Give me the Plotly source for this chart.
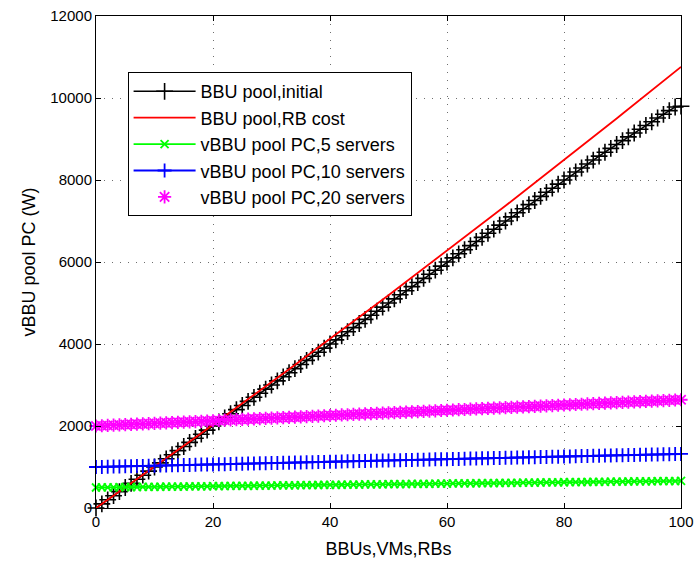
import plotly.graph_objects as go

# ---------------- data ----------------
n_units = list(range(0, 101))  # BBUs, VMs, RBs

bbu_initial = [
    0, 100, 200, 300, 400, 500, 600, 700, 800, 900,
    1000, 1100, 1200, 1300, 1400, 1500, 1600, 1700, 1800, 1900,
    2000, 2100, 2200, 2300, 2400, 2500, 2600, 2700, 2800, 2900,
    3000, 3100, 3200, 3300, 3400, 3500, 3600, 3700, 3800, 3900,
    4000, 4100, 4200, 4300, 4400, 4500, 4600, 4700, 4800, 4900,
    5000, 5100, 5200, 5300, 5400, 5500, 5600, 5700, 5800, 5900,
    6000, 6100, 6200, 6300, 6400, 6500, 6600, 6700, 6800, 6900,
    7000, 7100, 7200, 7300, 7400, 7500, 7600, 7700, 7800, 7900,
    8000, 8098, 8196, 8293, 8390, 8486, 8582, 8677, 8772, 8866,
    8960, 9053, 9146, 9238, 9330, 9421, 9512, 9602, 9692, 9781,
    9800,
]

bbu_rb_cost = [
    0, 100, 200, 301, 401, 502, 603, 704, 805, 906,
    1008, 1109, 1211, 1313, 1415, 1517, 1619, 1722, 1825, 1927,
    2030, 2134, 2237, 2340, 2444, 2548, 2651, 2755, 2860, 2964,
    3068, 3173, 3278, 3383, 3488, 3593, 3698, 3804, 3910, 4016,
    4122, 4228, 4334, 4441, 4547, 4654, 4761, 4868, 4975, 5082,
    5190, 5298, 5406, 5513, 5622, 5730, 5838, 5947, 6056, 6165,
    6274, 6383, 6492, 6602, 6711, 6821, 6931, 7041, 7151, 7262,
    7372, 7483, 7594, 7705, 7816, 7928, 8039, 8151, 8262, 8374,
    8486, 8599, 8711, 8824, 8936, 9049, 9162, 9275, 9389, 9502,
    9616, 9729, 9843, 9957, 10072, 10186, 10300, 10415, 10530, 10645,
    10760,
]

vbbu_5 = [
    500, 502, 503, 505, 506, 508, 510, 511, 513, 514,
    516, 518, 519, 521, 522, 524, 526, 527, 529, 530,
    532, 534, 535, 537, 538, 540, 542, 543, 545, 546,
    548, 550, 551, 553, 554, 556, 558, 559, 561, 562,
    564, 566, 567, 569, 570, 572, 574, 575, 577, 578,
    580, 582, 583, 585, 586, 588, 590, 591, 593, 594,
    596, 598, 599, 601, 602, 604, 606, 607, 609, 610,
    612, 614, 615, 617, 618, 620, 622, 623, 625, 626,
    628, 630, 631, 633, 634, 636, 638, 639, 641, 642,
    644, 646, 647, 649, 650, 652, 654, 655, 657, 658,
    660,
]

vbbu_10 = [
    1000, 1003, 1006, 1010, 1013, 1016, 1019, 1022, 1026, 1029,
    1032, 1035, 1038, 1042, 1045, 1048, 1051, 1054, 1058, 1061,
    1064, 1067, 1070, 1074, 1077, 1080, 1083, 1086, 1090, 1093,
    1096, 1099, 1102, 1106, 1109, 1112, 1115, 1118, 1122, 1125,
    1128, 1131, 1134, 1138, 1141, 1144, 1147, 1150, 1154, 1157,
    1160, 1163, 1166, 1170, 1173, 1176, 1179, 1182, 1186, 1189,
    1192, 1195, 1198, 1202, 1205, 1208, 1211, 1214, 1218, 1221,
    1224, 1227, 1230, 1234, 1237, 1240, 1243, 1246, 1250, 1253,
    1256, 1259, 1262, 1266, 1269, 1272, 1275, 1278, 1282, 1285,
    1288, 1291, 1294, 1298, 1301, 1304, 1307, 1310, 1314, 1317,
    1320,
]

vbbu_20 = [
    2000, 2006, 2013, 2019, 2026, 2032, 2038, 2045, 2051, 2058,
    2064, 2070, 2077, 2083, 2090, 2096, 2102, 2109, 2115, 2122,
    2128, 2134, 2141, 2147, 2154, 2160, 2166, 2173, 2179, 2186,
    2192, 2198, 2205, 2211, 2218, 2224, 2230, 2237, 2243, 2250,
    2256, 2262, 2269, 2275, 2282, 2288, 2294, 2301, 2307, 2314,
    2320, 2326, 2333, 2339, 2346, 2352, 2358, 2365, 2371, 2378,
    2384, 2390, 2397, 2403, 2410, 2416, 2422, 2429, 2435, 2442,
    2448, 2454, 2461, 2467, 2474, 2480, 2486, 2493, 2499, 2506,
    2512, 2518, 2525, 2531, 2538, 2544, 2550, 2557, 2563, 2570,
    2576, 2582, 2589, 2595, 2602, 2608, 2614, 2621, 2627, 2634,
    2640,
]

x_ticks = [0, 20, 40, 60, 80, 100]
x_tick_labels = ["0", "20", "40", "60", "80", "100"]
y_ticks = [0, 2000, 4000, 6000, 8000, 10000, 12000]
y_tick_labels = ["0", "2000", "4000", "6000", "8000", "10000", "12000"]

# ---------------- figure ----------------
FONT = "Liberation Sans, Arial, Helvetica, sans-serif"

fig = go.Figure()

fig.add_trace(go.Scatter(
    x=n_units, y=bbu_initial, name="BBU pool,initial", legendgroup="a",
    mode="lines+markers", cliponaxis=False,
    line=dict(color="black", width=1.5),
    marker=dict(symbol="cross-thin", size=12, color="black",
                line=dict(color="black", width=1.6)),
))
fig.add_trace(go.Scatter(
    x=n_units, y=bbu_rb_cost, name="BBU pool,RB cost", legendgroup="b",
    mode="lines", cliponaxis=False,
    line=dict(color="#ff0000", width=1.8),
))
fig.add_trace(go.Scatter(
    x=n_units, y=vbbu_5, name="vBBU pool PC,5 servers", legendgroup="c",
    mode="lines+markers", cliponaxis=False,
    line=dict(color="#00ff00", width=1.8),
    marker=dict(symbol="x-thin", size=8, color="#00ff00",
                line=dict(color="#00ff00", width=1.8)),
))
fig.add_trace(go.Scatter(
    x=n_units, y=vbbu_10, name="vBBU pool PC,10 servers", legendgroup="d",
    mode="lines+markers", cliponaxis=False,
    line=dict(color="#0000ff", width=2),
    marker=dict(symbol="cross-thin", size=10, color="#0000ff",
                line=dict(color="#0000ff", width=1.8)),
))
fig.add_trace(go.Scatter(
    x=n_units, y=vbbu_20, name="vBBU pool PC,20 servers", legendgroup="e",
    mode="markers", cliponaxis=False,
    marker=dict(symbol="asterisk", size=11, color="#ff00ff",
                line=dict(color="#ff00ff", width=1.8)),
))

axis_common = dict(
    showline=True, linecolor="black", linewidth=1, mirror="ticks",
    ticks="inside", ticklen=5, tickcolor="black", tickwidth=1,
    showgrid=True, gridcolor="#6e6e6e", griddash="1px,7px", gridwidth=1,
    zeroline=False, automargin=False, ticklabeloverflow="allow",
    tickfont=dict(family=FONT, size=15, color="black"),
)

fig.update_xaxes(
    range=[0, 100], tickvals=x_ticks, ticktext=x_tick_labels,
    title=dict(text="BBUs,VMs,RBs", font=dict(family=FONT, size=18, color="black"), standoff=13),
    **axis_common,
)
fig.update_yaxes(
    range=[0, 12000], tickvals=y_ticks, ticktext=y_tick_labels,
    title=dict(text="vBBU pool PC (W)", font=dict(family=FONT, size=18, color="black"), standoff=9),
    **axis_common,
)

fig.update_layout(
    width=695, height=561,
    margin=dict(l=95.5, r=13.5, t=15.7, b=53.3),
    paper_bgcolor="white", plot_bgcolor="white",
    font=dict(family=FONT, size=18, color="black"),
    showlegend=True,
    legend=dict(
        x=0.054, y=0.886, xanchor="left", yanchor="top",
        bgcolor="white", bordercolor="black", borderwidth=1,
        font=dict(family=FONT, size=18, color="black"),
        itemwidth=62, tracegroupgap=0,
    ),
)

# remove the default 8 px page margin so the figure sits at the window's corner
fig.write_html(
    "out.html",
    config={"displayModeBar": False},
    post_script="document.body.style.margin='0px';",
)
